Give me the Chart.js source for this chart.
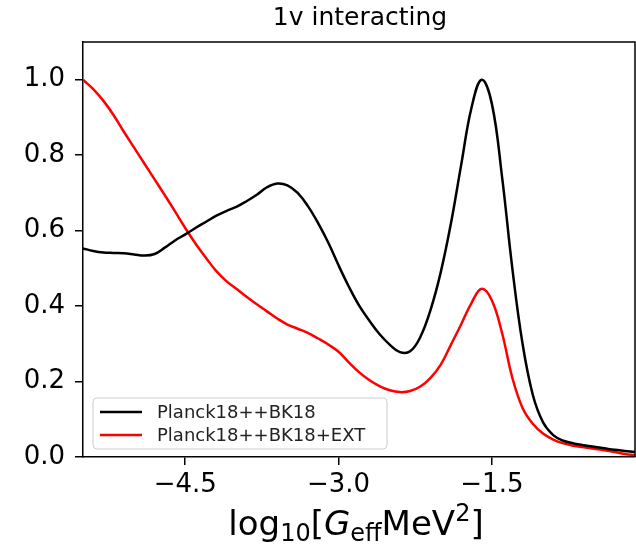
<!DOCTYPE html>
<html lang="en">
  <head>
    <meta charset="UTF-8" />
    <title>1v interacting</title>
    <script src="https://cdn.jsdelivr.net/npm/chart.js"></script>
    <style>
      html, body { margin: 0; padding: 0; background: #fff; }
      #wrap { width: 636px; height: 546px; }
    </style>
  </head>
  <body>
    <div id="wrap"><canvas id="chart" width="636" height="546"></canvas></div>
    <script>
      // log10[G_eff MeV^2] grid
      const xValues = [
        -5.5, -5.4, -5.3, -5.2, -5.1, -5.0, -4.9, -4.8, -4.7, -4.6,
        -4.5, -4.4, -4.3, -4.2, -4.1, -4.0, -3.9, -3.8, -3.7, -3.6,
        -3.5, -3.4, -3.3, -3.2, -3.1, -3.0, -2.9, -2.8, -2.7, -2.6,
        -2.5, -2.4, -2.3, -2.2, -2.1, -2.0, -1.9, -1.8, -1.7, -1.6,
        -1.5, -1.4, -1.3, -1.2, -1.1, -1.0, -0.9, -0.8, -0.7, -0.6,
        -0.5, -0.4, -0.3, -0.2, -0.1,
      ];
      const bk18 = [
        0.553, 0.546, 0.542, 0.541, 0.54, 0.537, 0.534, 0.538, 0.555, 0.574,
        0.59, 0.607, 0.623, 0.639, 0.652, 0.663, 0.678, 0.695, 0.715, 0.725,
        0.72, 0.7, 0.665, 0.62, 0.568, 0.508, 0.452, 0.402, 0.362, 0.326,
        0.298, 0.278, 0.28, 0.318, 0.39, 0.49, 0.62, 0.775, 0.925, 1.0,
        0.936, 0.741, 0.5, 0.3, 0.165, 0.092, 0.058, 0.043, 0.036, 0.031,
        0.027, 0.023, 0.019, 0.016, 0.013,
      ];
      const bk18ext = [
        1.0, 0.975, 0.944, 0.906, 0.862, 0.82, 0.778, 0.736, 0.694, 0.651,
        0.607, 0.566, 0.529, 0.494, 0.467, 0.446, 0.425, 0.405, 0.386, 0.367,
        0.351, 0.34, 0.329, 0.314, 0.298, 0.279, 0.251, 0.225, 0.204, 0.188,
        0.177, 0.172, 0.175, 0.187, 0.21, 0.245, 0.298, 0.352, 0.408, 0.446,
        0.415, 0.328, 0.21, 0.13, 0.088, 0.062, 0.046, 0.036, 0.03, 0.026,
        0.022, 0.018, 0.013, 0.008, 0.005,
      ];
      const seriesLabels = ["Planck18++BK18", "Planck18++BK18+EXT"];
      const xTicks = [-4.5, -3.0, -1.5];
      const yTicks = [0.0, 0.2, 0.4, 0.6, 0.8, 1.0];
      const titleText = "1v interacting";

      const FONT = "'DejaVu Sans', sans-serif";

      function toPoints(ys) {
        return xValues.map((x, i) => ({ x: x, y: ys[i] }));
      }

      // title, top/right frame, legend box and the mathtext x label
      const extras = {
        id: "extras",
        afterDraw(chart) {
          const ctx = chart.ctx;
          const a = chart.chartArea;
          ctx.save();

          // frame
          ctx.strokeStyle = "#000";
          ctx.lineWidth = 1.5;
          ctx.beginPath();
          ctx.moveTo(a.left, a.top);
          ctx.lineTo(a.right, a.top);
          ctx.lineTo(a.right, a.bottom);
          ctx.stroke();

          // title
          ctx.fillStyle = "#000";
          ctx.font = "25px " + FONT;
          ctx.textAlign = "center";
          ctx.textBaseline = "middle";
          ctx.fillText(titleText, 360, 18);

          // legend
          const lx = 93, ly = 398, lw = 294, lh = 51;
          ctx.beginPath();
          ctx.roundRect(lx, ly, lw, lh, 4);
          ctx.fillStyle = "rgba(255,255,255,0.8)";
          ctx.fill();
          ctx.strokeStyle = "#cccccc";
          ctx.lineWidth = 1;
          ctx.stroke();
          ctx.font = "18px " + FONT;
          ctx.textAlign = "left";
          chart.data.datasets.forEach((ds, i) => {
            const y = 412 + i * 23;
            ctx.strokeStyle = ds.borderColor;
            ctx.lineWidth = 2.5;
            ctx.beginPath();
            ctx.moveTo(100, y);
            ctx.lineTo(142, y);
            ctx.stroke();
            ctx.fillStyle = "#222";
            ctx.fillText(ds.label, 157, y + 1);
          });

          // x label: log10[G_eff MeV^2]
          const big = 34, small = 24;
          const parts = [
            { t: "log", f: big + "px " + FONT, dy: 0 },
            { t: "10", f: small + "px " + FONT, dy: 6 },
            { t: "[", f: big + "px " + FONT, dy: 0 },
            { t: "G", f: "oblique " + big + "px " + FONT, dy: 0 },
            { t: "eff", f: small + "px " + FONT, dy: 6 },
            { t: "MeV", f: big + "px " + FONT, dy: 0 },
            { t: "2", f: small + "px " + FONT, dy: -14 },
            { t: "]", f: big + "px " + FONT, dy: 0 },
          ];
          let total = 0;
          parts.forEach((p) => {
            ctx.font = p.f;
            p.w = ctx.measureText(p.t).width;
            total += p.w;
          });
          let x = 356 - total / 2;
          const base = 535;
          ctx.fillStyle = "#000";
          ctx.textBaseline = "alphabetic";
          parts.forEach((p) => {
            ctx.font = p.f;
            ctx.fillText(p.t, x, base + p.dy);
            x += p.w;
          });

          ctx.restore();
        },
      };

      new Chart(document.getElementById("chart"), {
        type: "line",
        data: {
          datasets: [
            {
              label: seriesLabels[0],
              data: toPoints(bk18),
              borderColor: "#000000",
              borderWidth: 2.5,
              pointRadius: 0,
              tension: 0.4,
            },
            {
              label: seriesLabels[1],
              data: toPoints(bk18ext),
              borderColor: "#ff0000",
              borderWidth: 2.5,
              pointRadius: 0,
              tension: 0.4,
            },
          ],
        },
        options: {
          responsive: false,
          animation: false,
          devicePixelRatio: 1,
          layout: { padding: { top: 42, right: 1, left: 0, bottom: 0 } },
          plugins: {
            legend: { display: false },
            title: { display: false },
            tooltip: { enabled: false },
          },
          scales: {
            x: {
              type: "linear",
              min: -5.5,
              max: -0.1,
              afterBuildTicks: (s) => {
                s.ticks = xTicks.map((v) => ({ value: v }));
              },
              afterFit: (s) => {
                s.height = 89;
              },
              ticks: {
                color: "#000",
                font: { family: FONT, size: 26 },
                padding: 5,
                maxRotation: 0,
                callback: (v) => v.toFixed(1).replace("-", "\u2212"),
              },
              grid: {
                drawOnChartArea: false,
                drawTicks: true,
                tickLength: 8,
                color: "#000",
                lineWidth: 1.5,
              },
              border: { display: true, color: "#000", width: 1.5 },
            },
            y: {
              type: "linear",
              min: 0,
              max: 1.1,
              afterBuildTicks: (s) => {
                s.ticks = yTicks.map((v) => ({ value: v }));
              },
              afterFit: (s) => {
                s.width = 83;
              },
              ticks: {
                color: "#000",
                font: { family: FONT, size: 26 },
                padding: 10,
                callback: (v) => v.toFixed(1),
              },
              grid: {
                drawOnChartArea: false,
                drawTicks: true,
                tickLength: 8,
                color: "#000",
                lineWidth: 1.5,
              },
              border: { display: true, color: "#000", width: 1.5 },
            },
          },
        },
        plugins: [extras],
      });
    </script>
  </body>
</html>
